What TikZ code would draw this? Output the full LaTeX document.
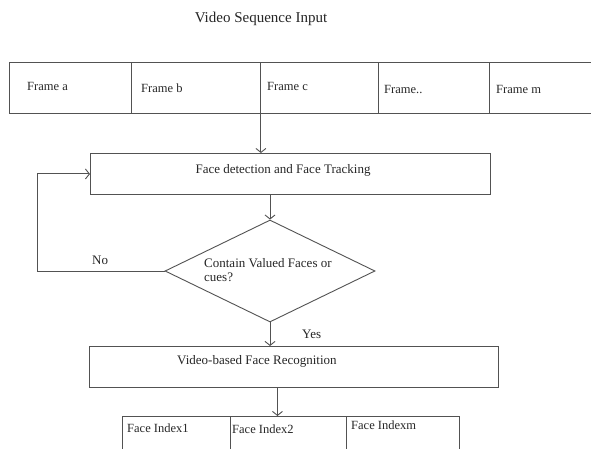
\documentclass[tikz,border=0pt]{standalone}
\usepackage{fontspec}
\setmainfont{Liberation Serif}
\usetikzlibrary{arrows.meta,shapes.geometric}
\begin{document}
\begin{tikzpicture}[x=1pt,y=-1pt,
  line/.style={draw=black!68, line width=0.9pt},
  cell/.style={line, rectangle, inner sep=0pt, anchor=north west},
  lbl/.style={font=\fontsize{12.5}{14}\selectfont, inner sep=0pt, anchor=west, text=black!85},
  arr/.style={line, -{Straight Barb[length=4pt,width=10pt]}},
]
\clip (0,0) rectangle (591,449);
\fill[white] (0,0) rectangle (591,449);
% title
\node[font=\fontsize{15}{17}\selectfont, text=black!85, inner sep=0pt] (title) at (261,19) {Video Sequence Input};
% frame row
\node[cell, minimum width=121.6pt, minimum height=51pt] (fa) at (9.4,62) {};
\node[cell, minimum width=129pt, minimum height=51pt] (fb) at (131,62) {};
\node[cell, minimum width=118pt, minimum height=51pt] (fc) at (260,62) {};
\node[cell, minimum width=111pt, minimum height=51pt] (fd) at (378,62) {};
\node[cell, minimum width=160pt, minimum height=51pt] (fm) at (489,62) {};
\node[lbl] (la) at (27,86) {Frame a};
\node[lbl] (lb) at (141,88) {Frame b};
\node[lbl] (lc) at (267,86) {Frame c};
\node[lbl] (ld) at (384,89) {Frame..};
\node[lbl] (lm) at (496,89) {Frame m};
% detection box
\node[cell, minimum width=400pt, minimum height=41pt] (det) at (90,153) {};
\node[lbl, anchor=center, font=\fontsize{13}{15}\selectfont] (ldet) at (283,170) {Face detection and Face Tracking};
\draw[arr] (fb.south east) -- (fb.south east |- det.north);
% decision
\node[line, diamond, minimum width=210pt, minimum height=102pt, inner sep=0pt] (dia) at (270,271) {};
\node[lbl, align=left, font=\fontsize{13}{14}\selectfont] (ldia) at (204,270) {Contain Valued Faces or\\cues?};
\draw[arr] (dia.north |- det.south) -- (dia.north);
\draw[arr] (dia.west) -- ++(-127,0) |- (det.west);
\node[lbl, font=\fontsize{13}{15}\selectfont] (lno) at (92,260) {No};
% recognition box
\node[cell, minimum width=409pt, minimum height=41pt] (vb) at (89,346) {};
\node[lbl, font=\fontsize{13}{15}\selectfont] (lvb) at (177,361) {Video-based Face Recognition};
\draw[arr] (dia.south) -- (dia.south |- vb.north);
\node[lbl, font=\fontsize{13}{15}\selectfont] (lyes) at (302,334) {Yes};
% index table
\node[cell, minimum width=108pt, minimum height=60pt] (i1) at (122,416) {};
\node[cell, minimum width=116pt, minimum height=60pt] (i2) at (230,416) {};
\node[cell, minimum width=113pt, minimum height=60pt] (im) at (346,416) {};
\node[lbl] (li1) at (127,428) {Face Index1};
\node[lbl] (li2) at (232,429) {Face Index2};
\node[lbl] (lim) at (351,425) {Face Indexm};
\draw[arr] ([xshift=-16.5pt]vb.south) -- ([xshift=-16.5pt]vb.south |- i2.north);
\end{tikzpicture}
\end{document}
